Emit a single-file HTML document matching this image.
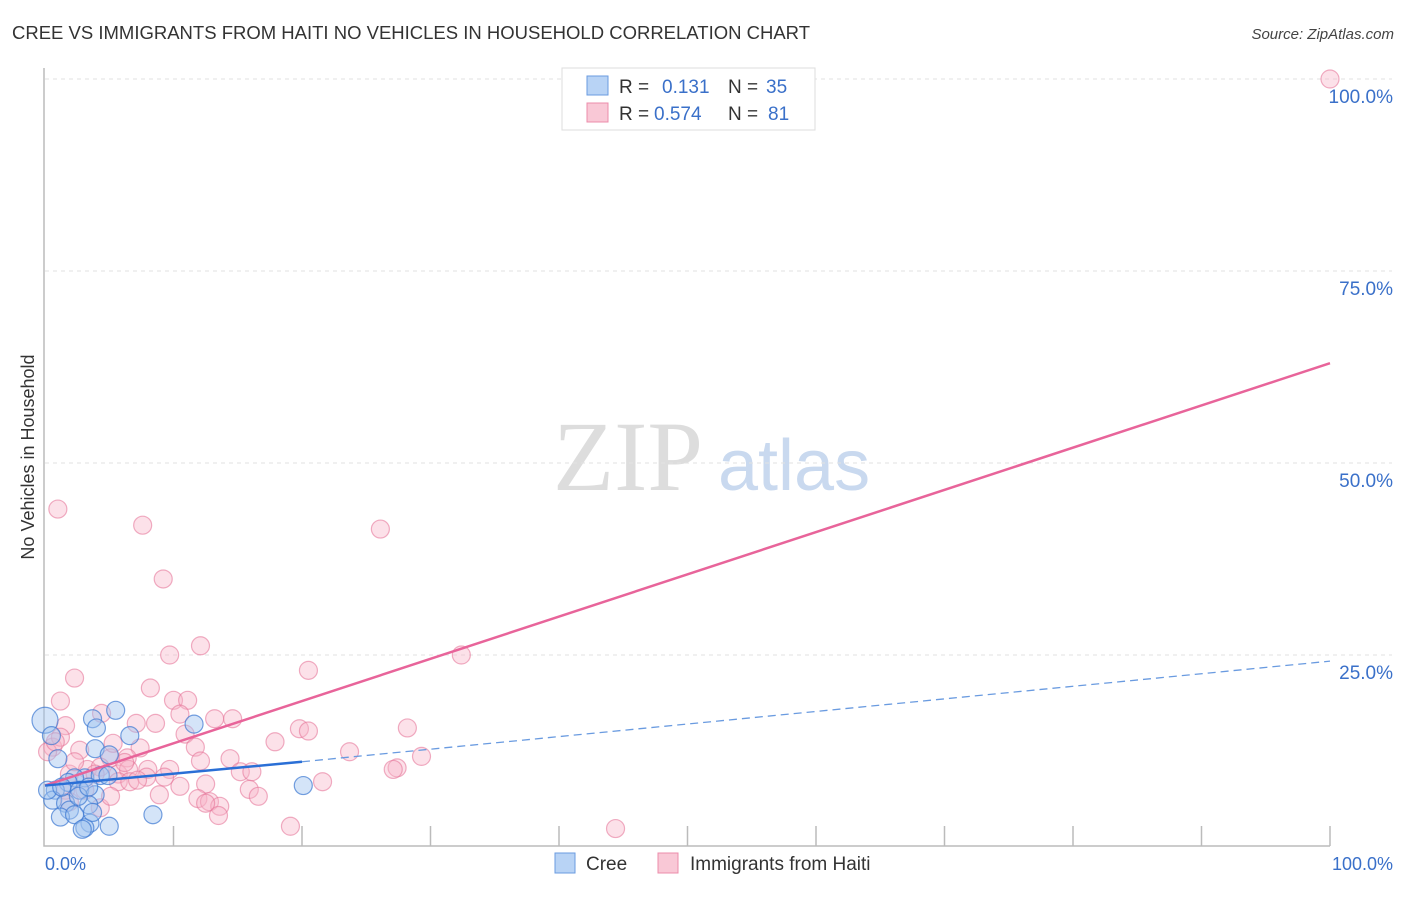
<!DOCTYPE html>
<html><head><meta charset="utf-8">
<style>
body{margin:0;background:#fff;font-family:"Liberation Sans",sans-serif;}
svg text{font-family:"Liberation Sans",sans-serif;}
svg text.serif{font-family:"Liberation Serif",serif;}
</style></head>
<body>
<svg id="chart" width="1406" height="892">
<text x="12" y="39" font-size="18.5" fill="#333">CREE VS IMMIGRANTS FROM HAITI NO VEHICLES IN HOUSEHOLD CORRELATION CHART</text>
<text x="1394" y="39" font-size="15" fill="#444" font-style="italic" text-anchor="end">Source: ZipAtlas.com</text>
<text x="34" y="457" font-size="18" fill="#333" text-anchor="middle" transform="rotate(-90 34 457)">No Vehicles in Household</text>
<g><text class="serif" x="553" y="490" font-size="100" fill="#ddd">ZIP</text><text x="718" y="490" font-size="72" fill="#c9d9ef">atlas</text></g>
<g id="grid"></g>
<g id="pts"></g>
<g id="lines"></g>
<g>
<rect x="562" y="68" width="253" height="62" fill="#fff" stroke="#ddd"/>
<rect x="587" y="76" width="21" height="19" fill="#b8d3f5" stroke="#6a9be0"/>
<rect x="587" y="103" width="21" height="19" fill="#f9c8d6" stroke="#ec8cab"/>
<text x="619" y="93" font-size="19" fill="#333">R = </text><text x="662" y="93" font-size="19" fill="#3a70c9">0.131</text>
<text x="728" y="93" font-size="19" fill="#333">N = </text><text x="766" y="93" font-size="19" fill="#3a70c9">35</text>
<text x="619" y="120" font-size="19" fill="#333">R = </text><text x="654" y="120" font-size="19" fill="#3a70c9">0.574</text>
<text x="728" y="120" font-size="19" fill="#333">N = </text><text x="768" y="120" font-size="19" fill="#3a70c9">81</text>
</g>
<g>
<rect x="555" y="853" width="20" height="20" fill="#b8d3f5" stroke="#6a9be0"/>
<text x="586" y="870" font-size="19" fill="#333">Cree</text>
<rect x="658" y="853" width="20" height="20" fill="#f9c8d6" stroke="#ec8cab"/>
<text x="690" y="870" font-size="19" fill="#333">Immigrants from Haiti</text>
</g>
<text x="45" y="870" font-size="18" fill="#3a70c9">0.0%</text>
<text x="1393" y="870" font-size="18" fill="#3a70c9" text-anchor="end">100.0%</text>
</svg>
<script>
const yTicks=[100,75,50,25];
const yTickLabels=["100.0%","75.0%","50.0%","25.0%"];
const xTicks=[10,20,30,40,50,60,70,80,90,100];
const creeX=[0,0.5,3.7,5.5,4,6.6,11.6,3.9,5,1,3.1,2.3,1.8,0.8,2.7,3.9,0.6,1.6,3.4,1.9,1.2,2.3,3.5,3.1,2.9,5,8.4,20.1,0.2,4.3,2.6,3.4,1.3,4.9,3.7];
const creeY=[16.5,14.5,16.7,17.8,15.5,14.5,16,12.8,12,11.5,9,9,8.4,7.4,7.4,6.8,6.1,5.7,5.5,4.8,3.9,4.2,3.1,2.5,2.3,2.7,4.2,8,7.4,9.3,6.6,7.8,7.8,9.3,4.5];
const haitiX=[1,7.6,9.2,26.1,12.1,9.7,32.4,20.5,2.3,8.2,1.2,10,11.1,10.5,4.4,1.6,7.1,8.6,13.2,14.6,19.8,20.5,28.2,17.9,10.9,11.7,7.4,23.7,14.4,6.4,2.7,0.6,0.2,5.1,3.3,4.3,5.7,6.5,8,9.7,12.1,15.2,16.1,27.4,27.1,29.3,1.9,3.9,5.7,6.6,7.9,10.5,12.5,15.9,16.6,21.6,8.9,11.9,12.8,13.6,13.5,4.3,1.6,1.9,19.1,44.4,100,3.1,2.3,1.2,0.8,5.1,7.2,9.3,12.5,5.3,6.2];
const haitiY=[44,41.9,34.9,41.4,26.2,25,25,23,22,20.7,19,19.1,19.1,17.3,17.4,15.8,16.1,16.1,16.7,16.7,15.4,15.1,15.5,13.7,14.7,13,12.9,12.4,11.5,11.6,12.6,13,12.4,11.6,10.1,10.4,9.5,10.1,10.1,10.1,11.2,9.8,9.8,10.3,10.1,11.8,9.5,9.5,8.5,8.5,9.1,7.9,8.2,7.5,6.6,8.5,6.8,6.3,5.9,5.3,4.1,5.1,7.4,5.9,2.7,2.4,100,7.4,11.1,14.3,13.7,6.6,8.7,9.1,5.7,13.5,11];
const haitiLine=[8,63];
const creeLineSolid=[8,11.1];
const creeLineDash=[11.1,24.2];
const NS='http://www.w3.org/2000/svg';
const X=v=>45+v*12.85, Y=v=>847-v*7.68;
function mk(t,a,p){const e=document.createElementNS(NS,t);for(const k in a)e.setAttribute(k,a[k]);p.appendChild(e);return e;}
const grid=document.getElementById('grid');
yTicks.forEach((t,i)=>{
 const l=mk('line',{x1:45,x2:1392,y1:Y(t),y2:Y(t),stroke:'#e2e2e2','stroke-dasharray':'4 4'},grid);
 
 
 const tx=mk('text',{x:1393,y:Y(t)+24,'font-size':19,fill:'#3a70c9','text-anchor':'end'},grid);
 tx.textContent=yTickLabels[i];
 
 
});
const ax=mk('path',{d:'M44,68 V846 H1330',stroke:'#bbb',fill:'none','stroke-width':1.5},grid);


xTicks.forEach(t=>{
 const l=mk('line',{x1:X(t),x2:X(t),y1:826,y2:846,stroke:'#bbb','stroke-width':1.5},grid);
 
 
});
const pts=document.getElementById('pts');
haitiX.forEach((v,i)=>{
 const c=mk('circle',{cx:X(v),cy:Y(haitiY[i]),r:9,fill:'rgba(248,180,200,0.4)',stroke:'rgba(230,120,155,0.6)','stroke-width':1.2},pts);
 
 
});
creeX.forEach((v,i)=>{
 const c=mk('circle',{cx:X(v),cy:Y(creeY[i]),r:i==0?13:9,fill:'rgba(160,195,240,0.45)',stroke:'rgba(60,120,210,0.7)','stroke-width':1.2},pts);
 
 
});
const lines=document.getElementById('lines');
const l1=mk('line',{x1:X(0),y1:Y(haitiLine[0]),x2:X(100),y2:Y(haitiLine[1]),stroke:'#e8649a','stroke-width':2.5},lines);


const l2=mk('line',{x1:X(0),y1:Y(creeLineSolid[0]),x2:X(20),y2:Y(creeLineSolid[1]),stroke:'#2a6fd6','stroke-width':2.5},lines);


const l3=mk('line',{x1:X(20),y1:Y(creeLineDash[0]),x2:X(100),y2:Y(creeLineDash[1]),stroke:'#6a9be0','stroke-width':1.3,'stroke-dasharray':'8 5'},lines);


</script>
</body></html>
